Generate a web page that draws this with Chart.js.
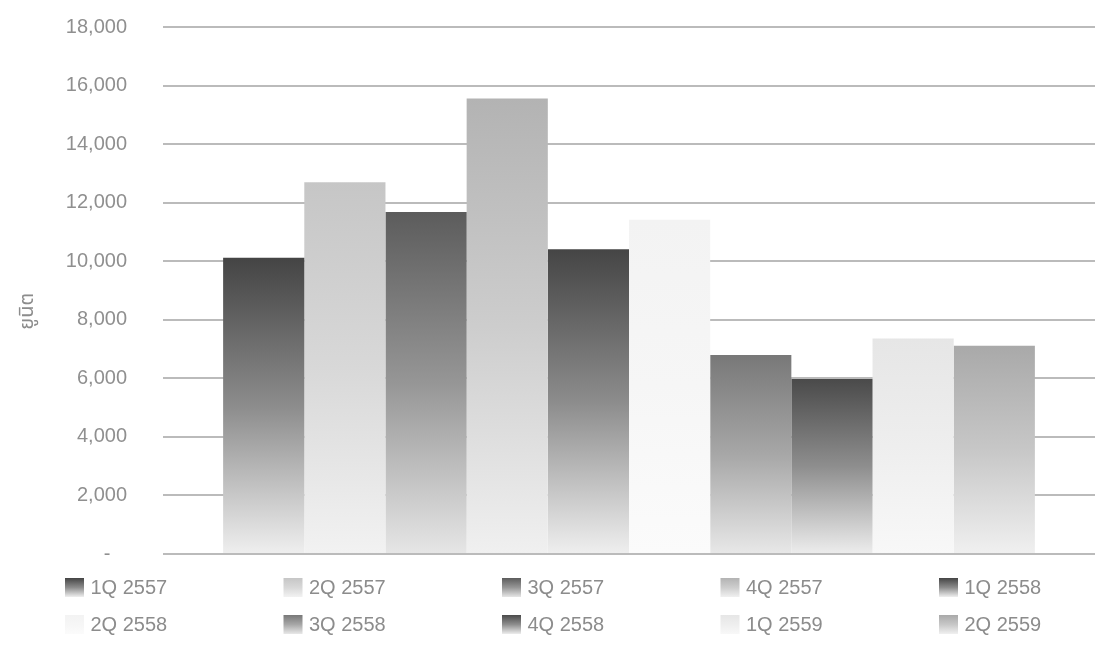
<!DOCTYPE html>
<html>
<head>
<meta charset="utf-8">
<script src="https://cdn.jsdelivr.net/npm/chart.js@4.4.1/dist/chart.umd.min.js"></script>
<style>
  html, body { margin: 0; padding: 0; background: #ffffff; }
  #wrap { width: 1100px; height: 646px; position: relative; }
</style>
</head>
<body>
<div id="wrap"><canvas id="c"></canvas></div>
<script>
// ---- data ----
const seriesNames = ['1Q 2557', '2Q 2557', '3Q 2557', '4Q 2557', '1Q 2558',
                     '2Q 2558', '3Q 2558', '4Q 2558', '1Q 2559', '2Q 2559'];
const seriesValues = [10120, 12700, 11680, 15560, 10410, 11420, 6800, 5980, 7360, 7110];
const yTickValues = [0, 2000, 4000, 6000, 8000, 10000, 12000, 14000, 16000, 18000];
const yAxisTitle = 'ยูนิต';
const topColors = ['#444444', '#c6c6c6', '#5c5c5c', '#b3b3b3', '#454545',
                   '#f3f3f3', '#787878', '#4a4a4a', '#e6e6e6', '#a9a9a9'];
const bottomColors = ['#efefef', '#f2f2f2', '#e6e6e6', '#f0f0f0', '#efefef',
                      '#fbfbfb', '#e8e8e8', '#ededed', '#f8f8f8', '#f0f0f0'];

function hexToRgb(h) {
  const n = parseInt(h.slice(1), 16);
  return [(n >> 16) & 255, (n >> 8) & 255, n & 255];
}
function mix(a, b, t) {
  const A = hexToRgb(a), B = hexToRgb(b);
  return 'rgb(' + A.map((v, i) => Math.round(v + (B[i] - v) * t)).join(',') + ')';
}
function makeGradient(c, y0, y1, i) {
  const g = c.createLinearGradient(0, y0, 0, y1);
  g.addColorStop(0, topColors[i]);
  g.addColorStop(0.5, mix(topColors[i], bottomColors[i], 0.42));
  g.addColorStop(1, bottomColors[i]);
  return g;
}

const datasets = seriesNames.map((name, i) => ({
  label: name,
  data: [seriesValues[i]],
  borderWidth: 0,
  barPercentage: 1.0,
  categoryPercentage: 0.871,
  backgroundColor: (ctx) => {
    const chart = ctx.chart;
    if (!chart.chartArea) return topColors[i];
    const y = chart.scales.y;
    return makeGradient(chart.ctx, y.getPixelForValue(seriesValues[i]), y.getPixelForValue(0), i);
  }
}));

const gridLegend = {
  id: 'gridLegend',
  afterDraw(chart) {
    const c = chart.ctx;
    c.save();
    c.font = '20px "Liberation Sans", Arial, sans-serif';
    c.textBaseline = 'middle';
    c.textAlign = 'left';
    chart.data.datasets.forEach((ds, i) => {
      const col = i % 5, row = Math.floor(i / 5);
      const x = 65 + col * 218.5;
      const y = row === 0 ? 578 : 615;
      c.fillStyle = makeGradient(c, y, y + 19, i);
      c.fillRect(x, y, 19, 19);
      c.fillStyle = '#8c8c8c';
      c.fillText(ds.label, x + 25.5, y + 10);
    });
    c.restore();
  }
};

new Chart(document.getElementById('c'), {
  type: 'bar',
  data: { labels: [''], datasets },
  plugins: [gridLegend],
  options: {
    responsive: true,
    maintainAspectRatio: false,
    devicePixelRatio: 1,
    animation: false,
    layout: { padding: { top: 27, right: 5, bottom: 92, left: 0 } },
    plugins: { legend: { display: false }, tooltip: { enabled: false } },
    scales: {
      x: { display: false },
      y: {
        min: 0, max: 18000,
        afterBuildTicks(scale) { scale.ticks = yTickValues.map(v => ({ value: v })); },
        afterFit(scale) { scale.width = 163; },
        border: { display: false },
        grid: { color: '#bbbbbb', lineWidth: 2, drawTicks: true, tickLength: 36, tickColor: 'rgba(0,0,0,0)' },
        ticks: {
          padding: 0,
          color: '#8f8f8f',
          font: { family: '"Liberation Sans", Arial, sans-serif', size: 20 },
          callback: (v) => v === 0 ? '-   ' : v.toLocaleString('en-US')
        },
        title: {
          display: true,
          text: yAxisTitle + '        ',
          color: '#8c8c8c',
          font: { family: '"Noto Sans Thai", "Noto Sans", sans-serif', size: 20 },
          padding: { top: 17, bottom: 0 }
        }
      }
    }
  }
});
</script>
</body>
</html>
